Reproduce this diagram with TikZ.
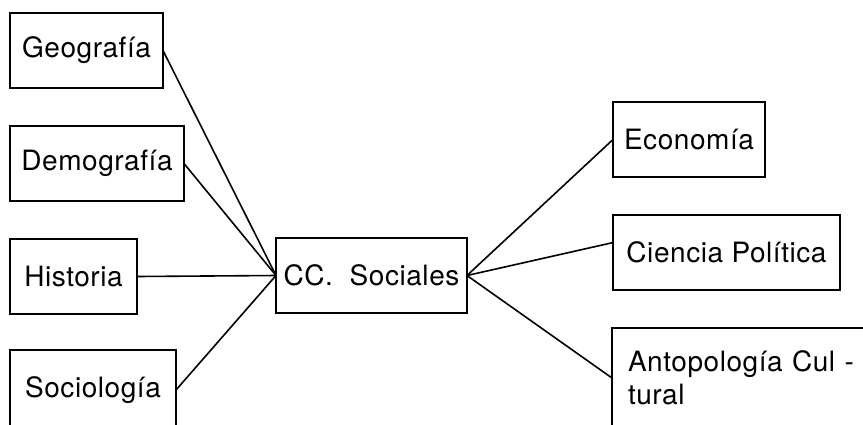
\documentclass[tikz,border=0pt]{standalone}
\usepackage{fontspec}
\setmainfont{TeX Gyre Heros}[LetterSpace=2]
\usepackage{tikz}
\usepackage{tkz-graph}

\begin{document}
\begin{tikzpicture}[x=0.5pt,y=-0.5pt]
        \GraphInit[vstyle=Normal]
        \tikzset{
            VertexStyle/.style = {
                shape = rectangle,
                draw,
                line width = 0.8pt,
                fill = white,
                inner sep = 0pt,
                minimum height = 37.5pt,
                font = \fontsize{14}{16.5}\selectfont},
            EdgeStyle/.style = {draw, line width = 0.8pt}
                }
    \useasboundingbox (0,0) rectangle (863,424);
    \clip (0,0) rectangle (863,424);
    % left column
    \Vertex[x=86.5,y=50.5,L={Geografía},style={minimum width=76.5pt}]{Geo}
    \Vertex[x=97,y=163.5,L={Demografía},style={minimum width=87pt}]{Dem}
    \Vertex[x=73.5,y=276.5,L={Historia},style={minimum width=63.5pt}]{His}
        {\tikzset{VertexStyle/.append style={minimum height = 40pt}}
        \Vertex[x=93,y=390,L={Sociología},style={minimum width=83pt}]{Soc}}
    % centre
    \Vertex[x=371.5,y=275.5,L={CC.~ Sociales},style={minimum width=95.5pt}]{CCS}
    % right column
    \Vertex[x=689,y=139.5,L={Economía},style={minimum width=76pt}]{Eco}
    \Vertex[x=726.5,y=252.5,L={Ciencia Política},style={minimum width=113.5pt}]{Cie}
        {\tikzset{VertexStyle/.append style={minimum height = 50pt,
            inner xsep = 8pt, text width = 118pt, align = left}}
        \Vertex[x=746,y=378,L={Antopología Cul -\\tural}]{Ant}}
    \Edge(Geo.east)(CCS.west)
    \Edge(Dem.east)(CCS.west)
    \Edge(His.east)(CCS.west)
    \Edge(Soc.east)(CCS.west)
    \Edge(CCS.east)(Eco.west)
    \Edge(CCS.east)(Cie.175)
    \Edge(CCS.east)(Ant.west)
\end{tikzpicture}
\end{document}
